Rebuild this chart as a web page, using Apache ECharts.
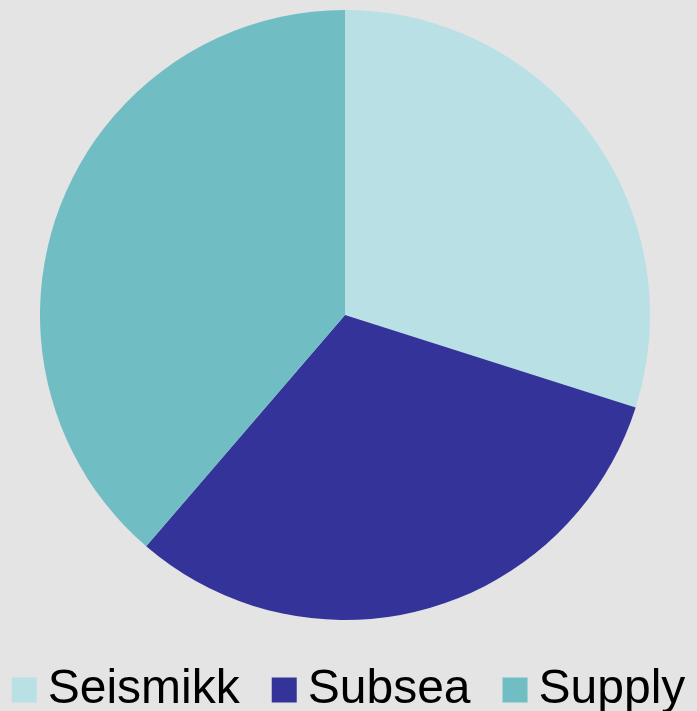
<!DOCTYPE html>
<html>
<head>
<meta charset="utf-8">
<script src="https://cdn.jsdelivr.net/npm/echarts@6/dist/echarts.min.js"></script>
<style>
  html, body { margin: 0; padding: 0; background: #e4e4e4; }
  #chart { width: 697px; height: 711px; }
</style>
</head>
<body>
<div id="chart"></div>
<script>
const categories = ["Seismikk", "Subsea", "Supply"];
const values = [29.9, 31.4, 38.7];
const colors = ["#b9e0e4", "#343399", "#70bec4"];

const myChart = echarts.init(document.getElementById("chart"));

const option = {
    backgroundColor: "#e4e4e4",
    animation: false,
    color: colors,
    legend: {
        data: categories,
        left: "center",
        top: 660,
        icon: "rect",
        itemWidth: 25,
        itemHeight: 25,
        itemGap: 32,
        textStyle: {
            fontFamily: "Liberation Sans, Arial, sans-serif",
            fontSize: 48,
            lineHeight: 50,
            color: "#000",
            padding: [0, 0, 0, 6],
        },
    },
    series: [
        {
            type: "pie",
            center: [345, 315],
            radius: 305,
            startAngle: 90,
            clockwise: true,
            label: { show: false },
            labelLine: { show: false },
            emphasis: { disabled: true },
            itemStyle: { borderWidth: 0 },
            data: categories.map(function (name, i) {
                return { name: name, value: values[i] };
            }),
        },
    ],
};

myChart.setOption(option);
</script>
</body>
</html>
